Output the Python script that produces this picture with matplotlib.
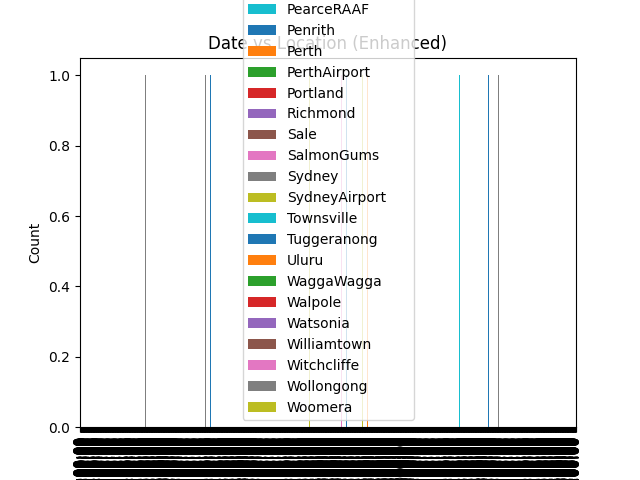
import pandas as pd
import matplotlib
matplotlib.use('Agg')
import matplotlib.pyplot as plt

# All 49 locations (columns of the crosstab)
locations = ['Adelaide', 'Albany', 'Albury', 'AliceSprings', 'BadgerysCreek', 'Ballarat', 'Bendigo',
             'Brisbane', 'Cairns', 'Canberra', 'Cobar', 'CoffsHarbour', 'Dartmoor', 'Darwin', 'GoldCoast',
             'Hobart', 'Katherine', 'Launceston', 'Melbourne', 'MelbourneAirport', 'Mildura', 'Moree',
             'MountGambier', 'MountGinini', 'Newcastle', 'Nhil', 'NorahHead', 'NorfolkIsland', 'Nuriootpa',
             'PearceRAAF', 'Penrith', 'Perth', 'PerthAirport', 'Portland', 'Richmond', 'Sale', 'SalmonGums',
             'Sydney', 'SydneyAirport', 'Townsville', 'Tuggeranong', 'Uluru', 'WaggaWagga', 'Walpole',
             'Watsonia', 'Williamtown', 'Witchcliffe', 'Wollongong', 'Woomera']

# Date axis (one category per day)
date_start = '2007-11-01'
date_end = '2014-01-22'

# Observed (Date, Location) records, each counted once
record_dates = ['2008-08-27', '2009-05-29', '2009-06-21', '2010-09-18', '2011-02-12', '2011-03-07',
                '2011-05-19', '2011-06-11', '2012-08-06', '2012-12-17', '2013-02-01']
record_locations = ['Launceston', 'Sydney', 'Penrith', 'SydneyAirport', 'Katherine', 'Cobar',
                    'Woomera', 'Uluru', 'Townsville', 'Tuggeranong', 'NorfolkIsland']

dates = pd.date_range(date_start, date_end)
df = pd.DataFrame({'Date': pd.to_datetime(record_dates), 'Location': record_locations})
ct = pd.crosstab(df['Date'], df['Location']).reindex(index=dates, columns=locations, fill_value=0)
ct.index.name = 'Date'

fig = plt.figure(figsize=(6.4, 4.8), dpi=100)
ax = fig.gca()
ct.plot(kind='bar', ax=ax)
ax.set_title('Date vs Location (Enhanced)')
ax.set_ylabel('Count')
ax.legend(loc='lower center')
fig.savefig('out.png')
